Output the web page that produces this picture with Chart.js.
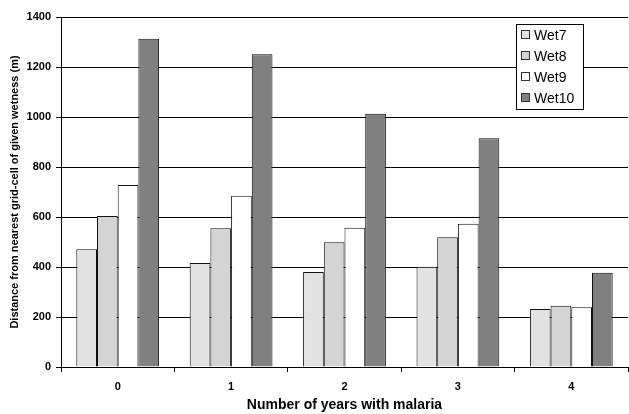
<!DOCTYPE html>
<html>
<head>
<meta charset="utf-8">
<script src="https://cdn.jsdelivr.net/npm/chart.js@4/dist/chart.umd.min.js"></script>
<style>
  html, body { margin: 0; padding: 0; background: #fff; }
  #wrap { width: 629px; height: 414px; }
</style>
</head>
<body>
<div id="wrap"><canvas id="chart"></canvas></div>
<script>
const years = ["0", "1", "2", "3", "4"];
const wet7 = [471, 416, 380, 401, 232];
const wet8 = [604, 555, 499, 519, 245];
const wet9 = [728, 685, 557, 573, 239];
const wet10 = [1313, 1251, 1013, 915, 377];
const yTicks = [0, 200, 400, 600, 800, 1000, 1200, 1400];

const FONT = "'Liberation Sans', Arial, sans-serif";

// legend box drawn inside the plot, top right
const boxLegend = {
  id: "boxLegend",
  afterDraw(chart) {
    const ctx = chart.ctx;
    const area = chart.chartArea;
    const sets = chart.data.datasets;
    const w = 67, h = 85;
    const x = area.right - 112, y = area.top + 7;
    ctx.save();
    ctx.fillStyle = "#fff";
    ctx.fillRect(x, y, w, h);
    ctx.strokeStyle = "#000";
    ctx.lineWidth = 1;
    ctx.strokeRect(x + 0.5, y + 0.5, w, h);
    ctx.font = "14px " + FONT;
    ctx.textBaseline = "middle";
    sets.forEach((ds, i) => {
      const cy = y + 11 + i * 21;
      ctx.fillStyle = ds.backgroundColor;
      ctx.fillRect(x + 5.5, cy - 4.5, 8, 8);
      ctx.strokeStyle = "#333";
      ctx.strokeRect(x + 5.5, cy - 4.5, 8, 8);
      ctx.fillStyle = "#000";
      ctx.fillText(ds.label, x + 18, cy + 1);
    });
    ctx.restore();
  },
};

const mkSet = (label, data, color) => ({
  label: label,
  data: data,
  backgroundColor: color,
  borderColor: "#111",
  borderWidth: 1,
  barPercentage: 1,
  categoryPercentage: 0.73,
});

new Chart(document.getElementById("chart"), {
  type: "bar",
  data: {
    labels: years,
    datasets: [
      mkSet("Wet7", wet7, "#e2e2e2"),
      mkSet("Wet8", wet8, "#d4d4d4"),
      mkSet("Wet9", wet9, "#ffffff"),
      mkSet("Wet10", wet10, "#808080"),
    ],
  },
  options: {
    responsive: true,
    maintainAspectRatio: false,
    animation: false,
    layout: { padding: { top: 17, right: 1, left: 0, bottom: 0 } },
    plugins: {
      legend: { display: false },
      tooltip: { enabled: false },
    },
    scales: {
      x: {
        afterFit: (s) => { s.height = 47; },
        grid: { offset: true, drawOnChartArea: false, tickLength: 5, color: "#000" },
        border: { color: "#000", width: 1 },
        ticks: { color: "#000", padding: 8, font: { family: FONT, size: 11, weight: "bold" } },
        title: {
          display: true,
          text: "Number of years with malaria",
          color: "#000",
          padding: { top: 0, bottom: 0 },
          font: { family: FONT, size: 14, weight: "bold" },
        },
      },
      y: {
        min: 0,
        max: 1400,
        afterFit: (s) => { s.width = 61; },
        afterBuildTicks: (s) => { s.ticks = yTicks.map((v) => ({ value: v })); },
        grid: { color: "#000", tickLength: 5 },
        border: { color: "#000", width: 1 },
        ticks: {
          color: "#000",
          padding: 5,
          font: { family: FONT, size: 11, weight: "bold" },
          callback: (v) => String(v),
        },
        title: {
          display: true,
          text: "Distance from nearest grid-cell of given wetness (m)",
          color: "#000",
          padding: { top: 8, bottom: 0 },
          font: { family: FONT, size: 11, weight: "bold" },
        },
      },
    },
  },
  plugins: [boxLegend],
});
</script>
</body>
</html>
